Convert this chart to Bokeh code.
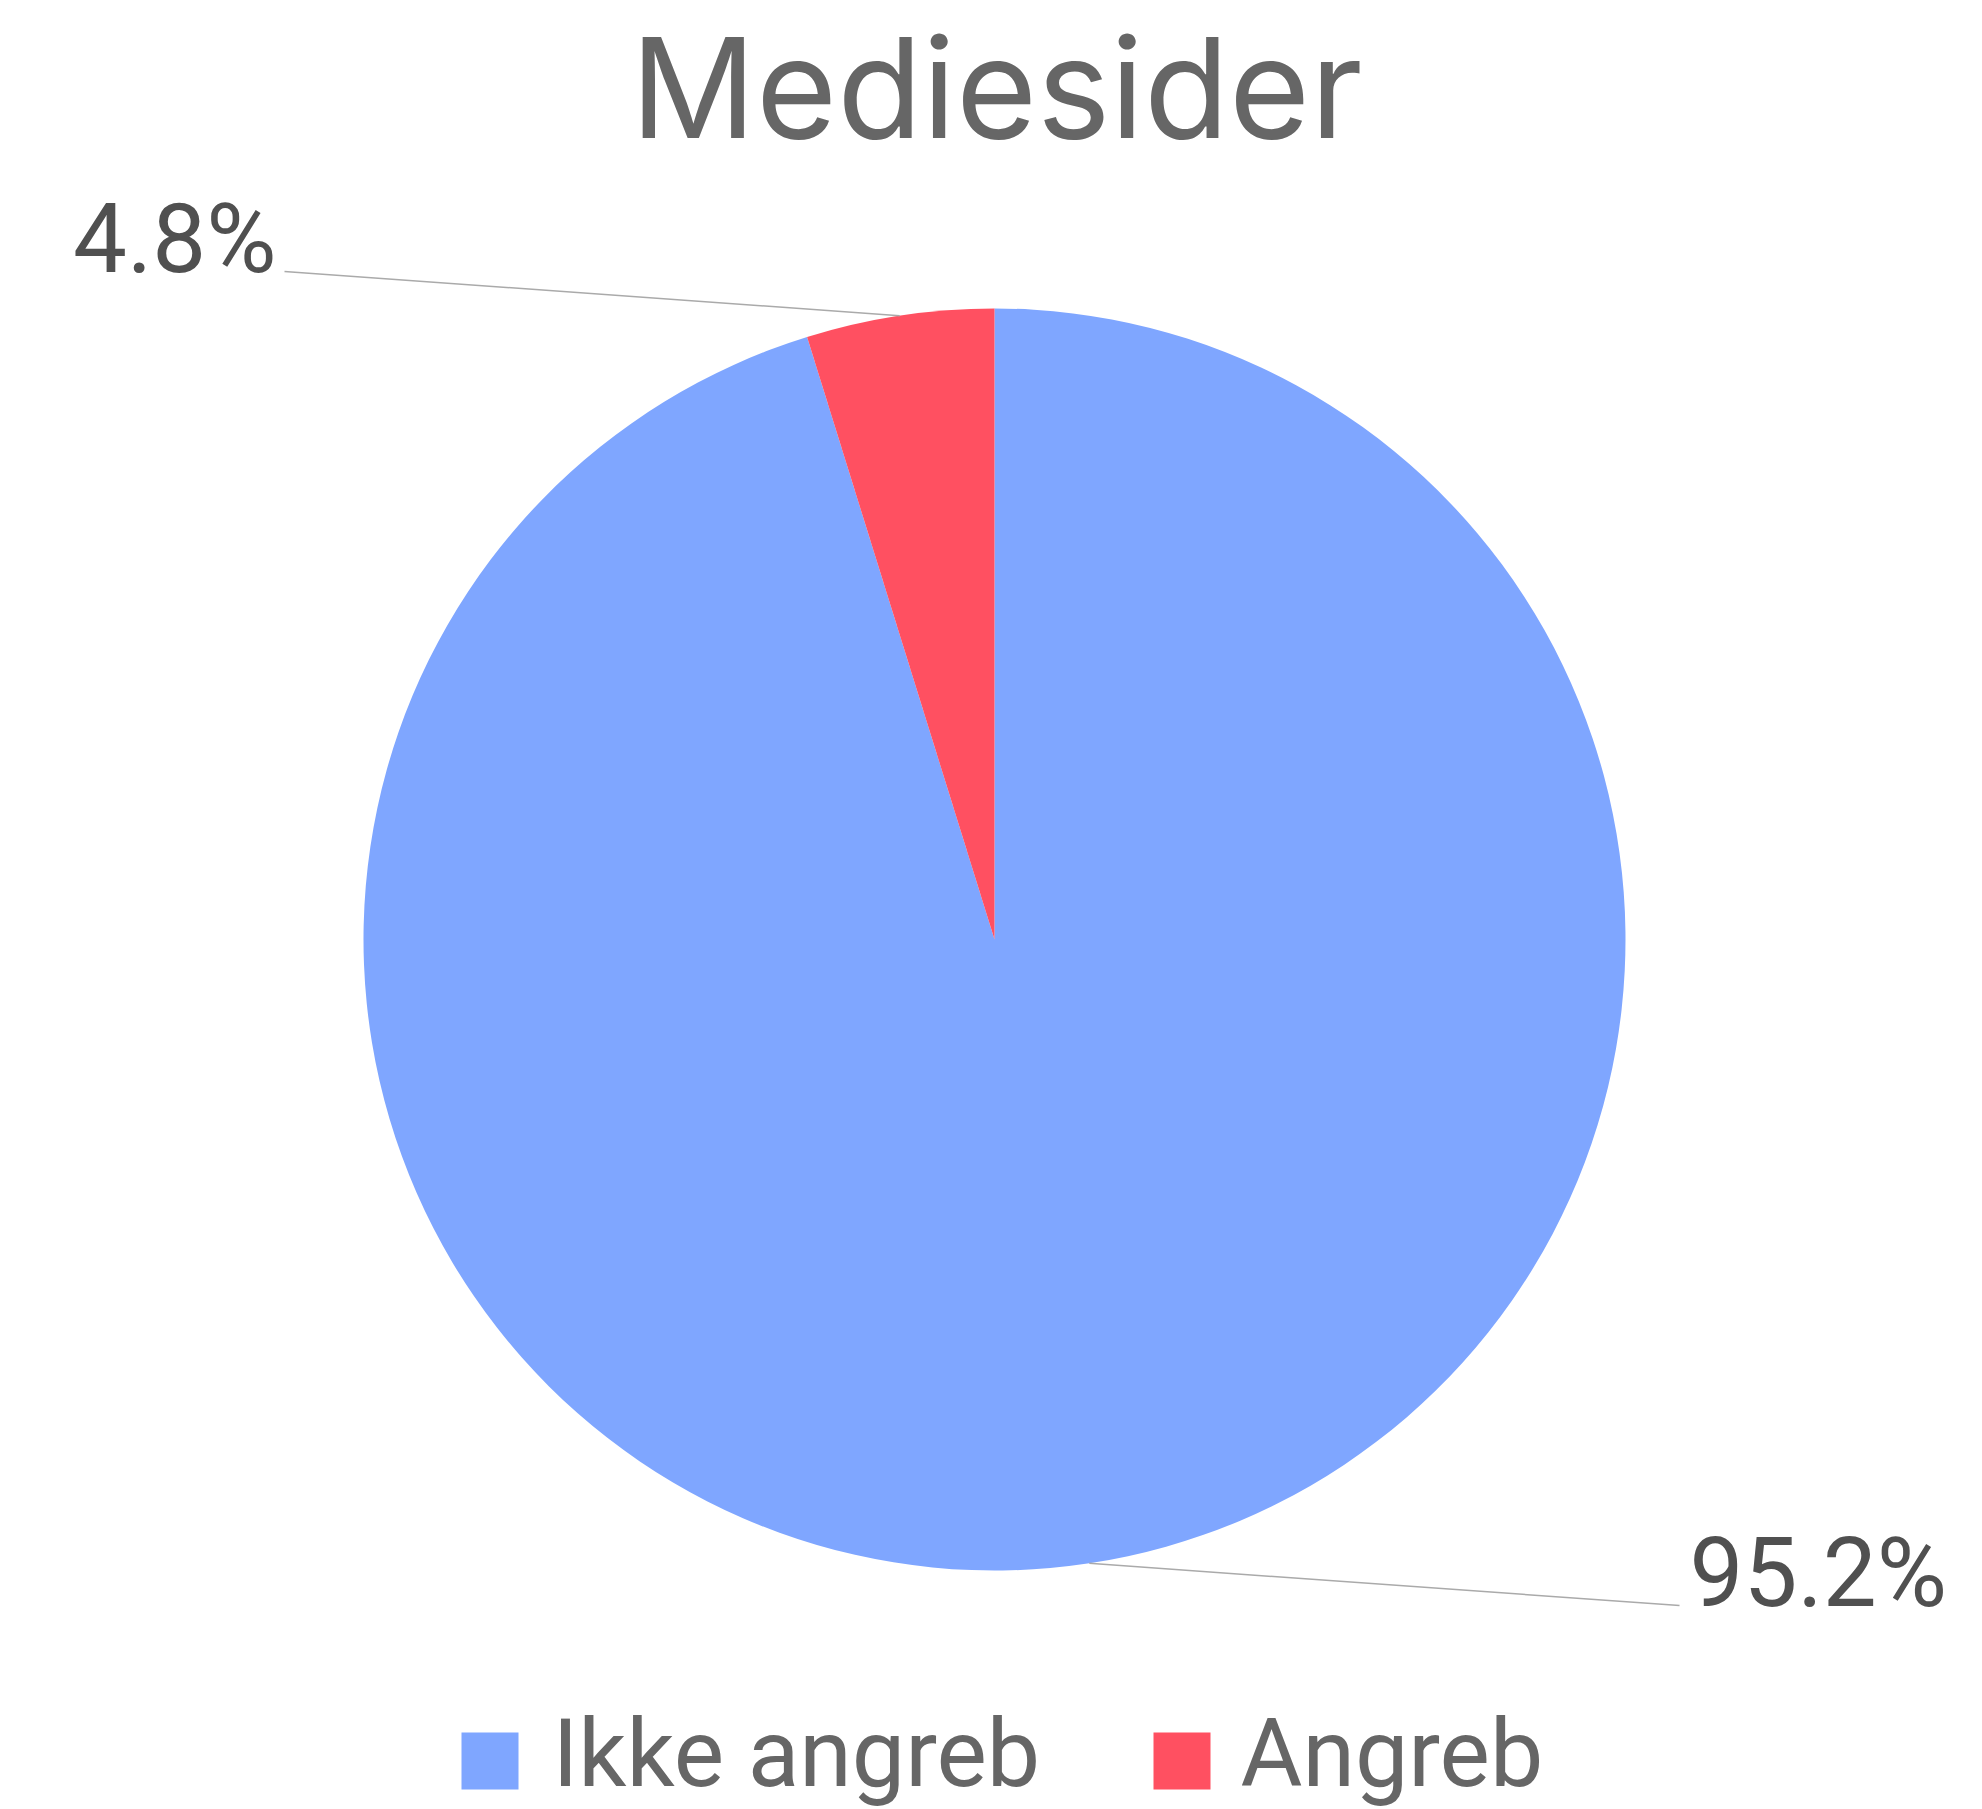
import math
from bokeh.plotting import figure
from bokeh.models import Range1d, ColumnDataSource
from bokeh.core.properties import value
from bokeh.embed import file_html
from bokeh.resources import INLINE

# ---- data ----
title_text = "Mediesider"
categories = ["Ikke angreb", "Angreb"]
shares = [95.2, 4.8]
colors = ["#7fa6ff", "#ff5061"]
label_texts = ["95.2%", "4.8%"]

# ---- layout (picture pixel coordinates) ----
W, H = 1982, 1809

def Y(py):
    return H - py

# empirical baseline correction (fraction of font size)
BASE_K = 0.34

def TY(baseline_py, size):
    return Y(baseline_py - BASE_K * size)

cx, cy, R = 994, 939, 631

p = figure(width=W, height=H, output_backend="svg", toolbar_location=None,
           x_range=Range1d(0, W), y_range=Range1d(0, H),
           min_border=0, outline_line_color=None)
p.axis.visible = False
p.grid.visible = False
p.background_fill_color = "white"
p.border_fill_color = "white"

# pie slices, clockwise from top
total = sum(shares)
starts, ends, mids = [], [], []
cum = 0.0
for s in shares:
    a0 = math.pi / 2 - cum / total * 2 * math.pi
    cum += s
    a1 = math.pi / 2 - cum / total * 2 * math.pi
    starts.append(a0)
    ends.append(a1)
    mids.append((a0 + a1) / 2)

src = ColumnDataSource(dict(start=starts, end=ends, color=colors, cat=categories))
p.wedge(x=cx, y=Y(cy), radius=R, start_angle="start", end_angle="end",
        direction="clock", fill_color="color", line_color=None, source=src)

# leader lines and labels
label_ends = [(1679, 1605), (284, 271)]
aligns = ["left", "right"]
for i in range(len(shares)):
    ex = cx + R * math.cos(mids[i])
    ey = Y(cy) + R * math.sin(mids[i])
    lx, ly = label_ends[i]
    p.line([ex, lx], [ey, Y(ly)], line_color="#aaaaaa", line_width=1.5)
    tx = lx + 10 if aligns[i] == "left" else lx - 8
    p.text(x=[tx], y=[TY(ly, 96)], text=[label_texts[i]],
           text_font=value("Roboto"), text_font_size="96px",
           text_color="#505050", text_align=aligns[i],
           text_baseline="alphabetic")

# title
p.text(x=[996], y=[TY(134, 139)], text=[title_text], text_font=value("Inter"),
       text_font_size="139px", text_color="#666666", text_align="center",
       text_baseline="alphabetic")

# legend
sq_x = [461, 1153]
txt_x = [552, 1240]
for i, cat in enumerate(categories):
    p.quad(left=sq_x[i], right=sq_x[i] + 57, top=Y(1732), bottom=Y(1789),
           fill_color=colors[i], line_color=None)
    p.text(x=[txt_x[i]], y=[TY(1785, 95)], text=[cat], text_font=value("Roboto"),
           text_font_size="95px", text_color="#666666", text_align="left",
           text_baseline="alphabetic")

open("out.html", "w").write(file_html(p, INLINE))
